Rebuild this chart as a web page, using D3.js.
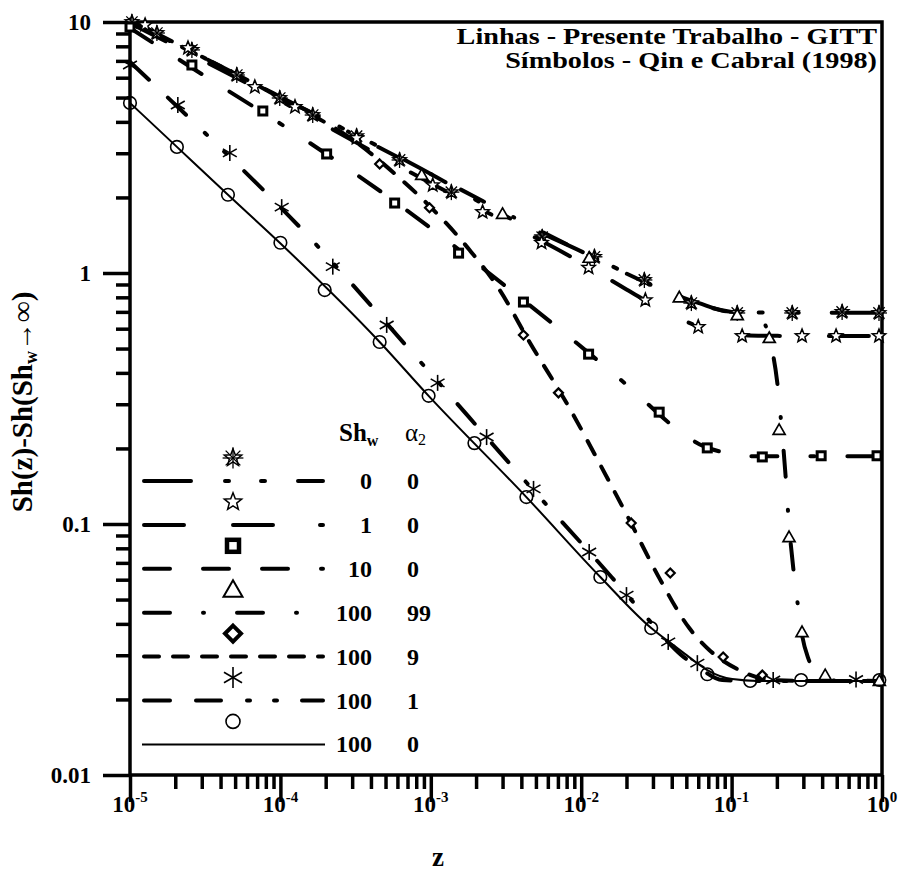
<!DOCTYPE html>
<html><head><meta charset="utf-8">
<script src="https://cdn.jsdelivr.net/npm/d3@7"></script>
<style>
body{margin:0;background:#fff}
svg{display:block}
</style>
</head><body><svg id="c" width="898" height="873"></svg>
<script>
// ---------------- DATA ----------------
const xTickExponents = [-5, -4, -3, -2, -1, 0];
const yTickValues = [0.01, 0.1, 1, 10];
const yTickLabels = ["0.01", "0.1", "1", "10"];
const titleLines = ["Linhas - Presente Trabalho - GITT", "Símbolos - Qin e Cabral (1998)"];
const legendShw = ["0", "1", "10", "100", "100", "100", "100"];
const legendAlpha = ["0", "0", "0", "99", "9", "1", "0"];

// GITT lines  [z, Sh(z)-Sh(Shw->inf)]
const lineSh0 = [[1e-5,10.2],[1e-4,5.03],[1e-3,2.48],[3e-3,1.71],[0.01,1.22],[0.02,1.0],[0.04,0.83],[0.06,0.76],[0.1,0.70],[0.2,0.695],[1,0.695]];
const lineSh1 = [[1e-5,9.9],[1e-4,4.85],[1e-3,2.28],[3e-3,1.62],[0.01,1.10],[0.02,0.86],[0.04,0.68],[0.07,0.595],[0.1,0.57],[0.15,0.562],[1,0.561]];
const lineSh10 = [[1e-5,9.46],[3e-5,6.2],[1.4e-4,3.45],[5.8e-4,1.92],[3.7e-3,0.82],[0.011,0.485],[0.021,0.35],[0.041,0.245],[0.061,0.208],[0.092,0.192],[0.15,0.186],[1,0.186]];
const lineA99 = [[1e-5,10.2],[1e-4,5.03],[1e-3,2.48],[0.01,1.22],[0.04,0.83],[0.1,0.70],[0.141,0.693],[0.164,0.638],[0.183,0.516],[0.201,0.368],[0.213,0.259],[0.227,0.164],[0.241,0.099],[0.257,0.0668],[0.273,0.0498],[0.294,0.0361],[0.323,0.0292],[0.37,0.0255],[0.458,0.0238],[1,0.0237]];
const lineA9 = [[1e-5,10.0],[1e-4,4.98],[3.37e-4,3.24],[6.2e-4,2.39],[9.8e-4,1.85],[1.81e-3,1.235],[2.87e-3,0.856],[4.53e-3,0.531],[8.35e-3,0.29],[0.0132,0.175],[0.0209,0.1038],[0.033,0.061],[0.0523,0.0385],[0.071,0.0315],[0.1124,0.0262],[0.186,0.0239],[0.33,0.0237],[1,0.0237]];
const lineA1 = [[1e-5,6.93],[3.2e-5,3.58],[1.35e-4,1.52],[8.55e-4,0.442],[4.13e-3,0.151],[0.0159,0.0615],[0.0267,0.043],[0.0462,0.0301],[0.061,0.0267],[0.0867,0.0239],[0.15,0.0237],[1,0.0237]];
const lineA0 = [[1e-5,4.76],[2.05e-5,3.18],[4.48e-5,2.05],[9.9e-5,1.32],[4.57e-4,0.531],[9.67e-4,0.324],[4.32e-3,0.128],[0.0134,0.0615],[0.0292,0.0385],[0.0416,0.0327],[0.0522,0.0295],[0.0689,0.0262],[0.101,0.0241],[0.15,0.0237],[1,0.0237]];

// Qin e Cabral (1998) symbols
const symSh0 = [[1.03e-5,10.0],[1.51e-5,9.04],[2.58e-5,7.74],[5.13e-5,6.15],[9.9e-5,4.98],[1.64e-4,4.26],[3.21e-4,3.51],[6.2e-4,2.82],[1.37e-3,2.10],[5.5e-3,1.39],[0.01225,1.16],[0.0263,0.938],[0.054,0.759],[0.109,0.693],[0.253,0.693],[0.543,0.70],[0.955,0.693]];
const symSh1 = [[1.26e-5,9.73],[2.43e-5,7.88],[6.76e-5,5.51],[1.25e-4,4.59],[3.21e-4,3.45],[1.03e-3,2.24],[2.21e-3,1.75],[5.45e-3,1.32],[0.0112,1.05],[0.0267,0.78],[0.060,0.61],[0.1175,0.561],[0.294,0.561],[0.495,0.561],[0.955,0.561]];
const symSh10 = [[1e-5,9.55],[2.58e-5,6.74],[7.64e-5,4.42],[2.03e-4,2.98],[5.75e-4,1.90],[1.53e-3,1.20],[4.13e-3,0.766],[0.0112,0.475],[0.033,0.279],[0.0689,0.201],[0.160,0.185],[0.394,0.187],[0.927,0.187]];
const symA99 = [[8.7e-4,2.46],[3.0e-3,1.72],[0.0113,1.15],[0.0449,0.80],[0.109,0.68],[0.178,0.551],[0.207,0.237],[0.241,0.0887],[0.294,0.0371],[0.419,0.025],[0.96,0.0237]];
const symA9 = [[4.57e-4,2.72],[9.8e-4,1.82],[4.13e-3,0.566],[7.06e-3,0.333],[0.0215,0.101],[0.0391,0.0638],[0.0879,0.0295],[0.160,0.025]];
const symA1 = [[1e-5,6.74],[2.08e-5,4.67],[4.61e-5,3.01],[1.02e-4,1.83],[2.23e-4,1.06],[5.09e-4,0.621],[1.11e-3,0.365],[2.35e-3,0.222],[4.82e-3,0.138],[0.0113,0.0773],[0.02,0.0521],[0.0379,0.0339],[0.0592,0.0279],[0.189,0.0239],[0.672,0.024]];
const symA0 = [[1e-5,4.76],[2.05e-5,3.18],[4.48e-5,2.05],[1e-4,1.32],[1.97e-4,0.855],[4.57e-4,0.531],[9.67e-4,0.324],[1.95e-3,0.21],[4.32e-3,0.128],[0.0134,0.0615],[0.0292,0.0385],[0.0689,0.0252],[0.133,0.0237],[0.29,0.0239],[0.96,0.0239]];

// ---------------- CHART ----------------
const FONT = "'Liberation Serif', serif";
const svg = d3.select("#c");
const x = d3.scaleLog().domain([1e-5, 1]).range([130, 882]);
const y = d3.scaleLog().domain([0.01, 10]).range([775, 22]);
const AX = 3.5;

function txt(g, px, py, size, anchor, weight) {
  return g.append("text").attr("x", px).attr("y", py)
    .style("font-family", FONT).style("font-weight", weight || "bold").style("font-size", size + "px")
    .attr("text-anchor", anchor || "start").attr("fill", "#000");
}

const xMinor = [], yMinor = [];
for (let e = -5; e < 0; e++) for (let k = 2; k <= 9; k++) xMinor.push(k * Math.pow(10, e));
for (let e = -2; e < 1; e++) for (let k = 2; k <= 9; k++) yMinor.push(k * Math.pow(10, e));
const xMajor = xTickExponents.map(e => Math.pow(10, e));

function styleAxis(g) {
  g.select(".domain").remove();
  g.selectAll(".tick line").attr("stroke", "#000").attr("stroke-width", AX);
  g.selectAll(".tick text").remove();
}
svg.append("g").attr("transform", "translate(0,775)")
  .call(d3.axisBottom(x).tickValues(xMinor).tickSize(14).tickSizeOuter(0)).call(styleAxis);
svg.append("g").attr("transform", "translate(0,775)")
  .call(d3.axisBottom(x).tickValues(xMajor).tickSize(27).tickSizeOuter(0)).call(styleAxis);
svg.append("g").attr("transform", "translate(130,0)")
  .call(d3.axisLeft(y).tickValues(yMinor).tickSize(14).tickSizeOuter(0)).call(styleAxis);
svg.append("g").attr("transform", "translate(130,0)")
  .call(d3.axisLeft(y).tickValues(yTickValues).tickSize(27).tickSizeOuter(0)).call(styleAxis);

svg.append("rect").attr("x", 130).attr("y", 22).attr("width", 752).attr("height", 753)
  .attr("fill", "none").attr("stroke", "#000").attr("stroke-width", AX);

// tick labels
xTickExponents.forEach(e => {
  const t = txt(svg, x(Math.pow(10, e)), 812, 23, "middle");
  t.append("tspan").text("10");
  t.append("tspan").attr("dy", -10).style("font-size", "15px").text(String(e));
});
yTickValues.forEach((v, i) => {
  txt(svg, 91, y(v) + 8, 23, "end").text(yTickLabels[i]);
});

// axis titles
txt(svg, 438, 866, 27, "middle").text("z");
const yt = txt(svg, 0, 0, 29, "middle").attr("transform", "translate(32,402) rotate(-90)");
yt.append("tspan").text("Sh(z)-Sh(Sh");
yt.append("tspan").style("font-size", "18px").attr("dy", 5).text("w");
yt.append("tspan").attr("dy", -5).text("→∞)");

// title (horizontally widened type, as in the reference)
titleLines.forEach((s, i) => {
  txt(svg, 0, 0, 23.5, "end").attr("transform", `translate(877,${44 + i * 24}) scale(1.2,1)`).text(s);
});

// ---------- series ----------
const W = 4;
const series = [
  {line: lineSh0, sym: symSh0, type: "astar", dash: [47,34,4,32,4,33], w: W},
  {line: lineSh1, sym: symSh1, type: "star", dash: [40,49,40,47,4,49], w: W},
  {line: lineSh10, sym: symSh10, type: "square", dash: [26,33,26,33,26,33,4,33], w: W},
  {line: lineA99, sym: symA99, type: "tri", dash: [26,33,1,33], w: W},
  {line: lineA9, sym: symA9, type: "diamond", dash: [15,14], w: W},
  {line: lineA1, sym: symA1, type: "ast", dash: [26,26,25,26,3,24,3,25], w: W},
  {line: lineA0, sym: symA0, type: "circle", dash: null, w: 2}
];

const lineGen = d3.line().x(d => x(d[0])).y(d => y(d[1])).curve(d3.curveMonotoneX);

function drawSymbol(g, type, cx, cy, big) {
  const s = big ? 1.3 : 1;
  if (type === "circle") {
    g.append("circle").attr("cx", cx).attr("cy", cy).attr("r", big ? 7 : 6.3)
      .attr("fill", "none").attr("stroke", "#000").attr("stroke-width", 1.6);
  } else if (type === "square") {
    const h = big ? 6 : 4;
    g.append("rect").attr("x", cx - h).attr("y", cy - h).attr("width", 2 * h).attr("height", 2 * h)
      .attr("fill", "#fff").attr("stroke", "#000").attr("stroke-width", big ? 4.5 : 3);
  } else if (type === "diamond") {
    const h = big ? 8 : 4.5;
    g.append("path").attr("d", `M${cx},${cy - h}L${cx + h},${cy}L${cx},${cy + h}L${cx - h},${cy}Z`)
      .attr("fill", "#fff").attr("stroke", "#000").attr("stroke-width", big ? 4 : 2.2);
  } else if (type === "tri") {
    const h = big ? 9.5 : 6;
    g.append("path").attr("d", `M${cx},${cy - h}L${cx + h},${cy + h * 0.75}L${cx - h},${cy + h * 0.75}Z`)
      .attr("fill", "#fff").attr("stroke", "#000").attr("stroke-width", big ? 2 : 1.7);
  } else if (type === "star" || type === "astar") {
    const R = 7 * s, r = 3 * s;
    const pts = d3.range(10).map(i => {
      const a = -Math.PI / 2 + i * Math.PI / 5, rr = i % 2 ? r : R;
      return [cx + rr * Math.cos(a), cy + rr * Math.sin(a)];
    });
    g.append("path").attr("d", "M" + pts.join("L") + "Z")
      .attr("fill", "#fff").attr("stroke", "#000").attr("stroke-width", 1.5);
    if (type === "astar") {
      const L = 8 * s;
      [0, 45, 90, 135].forEach(deg => {
        const a = deg * Math.PI / 180;
        g.append("line").attr("x1", cx - L * Math.cos(a)).attr("y1", cy - L * Math.sin(a))
          .attr("x2", cx + L * Math.cos(a)).attr("y2", cy + L * Math.sin(a))
          .attr("stroke", "#000").attr("stroke-width", 1.3);
      });
    }
  } else if (type === "ast") {
    const L = 8 * s;
    [90, 30, 150].forEach(deg => {
      const a = deg * Math.PI / 180;
      g.append("line").attr("x1", cx - L * Math.cos(a)).attr("y1", cy - L * Math.sin(a))
        .attr("x2", cx + L * Math.cos(a)).attr("y2", cy + L * Math.sin(a))
        .attr("stroke", "#000").attr("stroke-width", 1.6);
    });
  }
}

const plot = svg.append("g");
series.forEach(sr => {
  plot.append("path").datum(sr.line).attr("d", lineGen)
    .attr("fill", "none").attr("stroke", "#000").attr("stroke-width", sr.w)
    .attr("stroke-linecap", sr.dash ? "round" : "butt")
    .attr("stroke-dasharray", sr.dash ? sr.dash.join(",") : null);
});
series.forEach(sr => {
  const g = plot.append("g");
  sr.sym.forEach(d => drawSymbol(g, sr.type, x(d[0]), y(d[1]), false));
});

// ---------- legend ----------
const lg = svg.append("g");
const hdr = txt(lg, 339, 441, 25);
hdr.append("tspan").text("Sh");
hdr.append("tspan").style("font-size", "16px").attr("dy", 5).text("w");
const ah = txt(lg, 405, 441, 25, "start", "normal");
ah.append("tspan").text("α");
ah.append("tspan").style("font-size", "16px").attr("dy", 4).text("2");

series.forEach((sr, i) => {
  const ly = 481 + i * 43.9;
  drawSymbol(lg, sr.type, 233, ly - 23, true);
  lg.append("path").attr("d", `M${sr.dash ? 144 : 142},${ly}H${sr.dash ? 323 : 325}`)
    .attr("fill", "none").attr("stroke", "#000").attr("stroke-width", sr.w)
    .attr("stroke-linecap", sr.dash ? "round" : "butt")
    .attr("stroke-dasharray", sr.dash ? sr.dash.join(",") : null);
  txt(lg, 372, ly + 8, 24, "end").text(legendShw[i]);
  txt(lg, 407, ly + 8, 24).text(legendAlpha[i]);
});
</script>
</body></html>
